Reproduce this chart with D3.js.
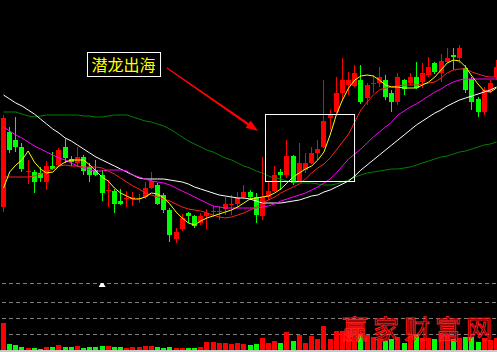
<!DOCTYPE html>
<html><head><meta charset="utf-8">
<script src="https://cdn.jsdelivr.net/npm/d3@7"></script>
<style>html,body{margin:0;padding:0;background:#000;overflow:hidden}</style>
</head><body><svg id="c" width="497" height="352"></svg>
<script>
// ---- data (prices) ----
const opens  = [9.3,16.8,16.0,15.3,12.8,12.8,12.7,11.8,13.4,13.5, 15.3,14.1,13.7,14.3,13.3,13.0,12.5,10.9,10.9,9.9, 10.1,10.1,10.1,10.3,11.2,11.5,10.5,9.0,6.1,7.1, 8.7,8.4,7.7,8.4,8.8,8.8,9.1,9.5,9.6,10.3, 10.8,10.3,8.4,10.3,10.9,12.8,12.5,14.4,11.9,13.0, 13.7,14.7,15.3,18.2,18.8,20.7,21.5,21.4,22.0,20.2, 21.6,21.7,22.0,20.7,19.8,22.0,21.7,22.3,21.8,22.5, 23.7,22.7,23.8,24.5,24.2,23.2,22.1,20.1,18.8,21.0,22.3];
const highs  = [18.5,17.3,18.3,15.7,14.0,13.0,13.3,13.9,14.8,15.2, 16.1,14.4,15.3,14.5,13.7,14.0,13.0,12.0,11.1,11.1, 10.9,10.8,10.6,11.8,12.8,11.7,10.7,9.2,7.2,8.6, 8.8,8.5,8.7,9.1,9.4,9.4,10.3,10.5,10.8,11.5, 11.0,10.7,14.3,11.8,13.4,13.1,16.0,14.5,15.7,14.7, 15.3,16.0,22.0,19.0,22.3,24.2,22.8,23.5,23.5,21.7, 22.5,23.3,22.5,21.0,22.7,22.1,22.7,23.8,23.7,24.3, 23.8,24.6,25.2,25.2,25.5,23.5,22.3,20.3,21.3,22.0,24.0];
const lows   = [8.8,14.7,14.8,12.8,11.6,10.7,11.8,11.0,13.0,13.3, 13.7,13.4,13.3,12.5,11.8,12.4,9.9,9.3,8.7,9.5, 9.3,9.4,9.7,10.1,11.1,9.5,8.7,5.8,5.7,6.9, 7.7,7.2,7.5,7.1,8.3,8.0,8.5,8.5,9.2,10.1, 10.0,7.7,8.0,10.0,10.8,11.0,12.2,11.5,11.8,12.7, 13.6,14.0,15.2,17.0,18.7,20.0,20.5,21.3,19.6,19.5, 20.7,21.3,20.0,18.8,19.5,20.5,21.5,21.1,21.2,22.3, 22.6,21.8,23.7,23.0,23.7,20.7,19.0,18.3,18.5,20.7,22.0];
const closes = [18.2,15.0,15.3,13.1,12.9,11.8,12.2,13.4,13.1,15.0, 14.2,13.8,14.3,12.9,12.5,12.5,10.7,11.0,9.6,9.6, 10.2,10.3,10.2,11.2,11.9,9.6,9.0,6.5,6.8,8.2, 8.4,7.4,8.4,8.7,8.9,8.9,9.6,9.6,10.2,10.8, 10.3,8.5,10.3,10.9,12.5,12.5,14.4,11.7,13.7,13.7, 14.7,15.1,17.9,18.6,20.7,22.0,22.0,22.7,19.8,21.5, 21.7,22.3,20.3,19.8,22.3,21.1,22.3,21.2,22.7,23.3, 22.8,23.9,24.2,24.3,25.2,21.0,19.8,18.8,21.0,21.7,23.3];
const volumes = [27,6,5,3,2,2,1,3,3,5, 3,3,4,2,3,3,4,4,3,3, 2,3,3,4,4,3,2,3,2,2, 2,2,3,8,8,7,7,6,7,6, 5,6,12,7,9,7,18,9,15,7, 14,11,24,11,19,19,19,10,16,15, 13,11,9,11,13,7,14,15,12,12, 11,17,16,11,12,13,13,8,12,10,12];
const ma5   = [11.2,12.8,13.5,14.0,14.9,13.8,13.1,12.7,12.8,13.4, 13.8,14.0,14.0,14.0,13.5,12.9,12.3,11.9,11.2,10.7, 10.4,10.1,10.1,10.3,10.7,10.6,10.2,9.6,8.8,8.2, 7.7,7.5,7.9,8.2,8.4,8.6,8.8,9.0,9.3,9.7, 10.1,10.2,10.3,10.4,10.7,11.1,11.7,12.3,12.7,13.1, 13.4,14.0,14.8,16.5,18.5,20.0,21.2,22.0,22.4,22.5, 22.4,22.0,21.5,21.3,21.3,21.2,21.2,21.2,21.5,21.8, 22.3,23.0,23.7,24.0,23.9,23.3,22.4,21.6,20.9,20.8,21.2];
const ma10  = [12.3,12.3,12.3,12.3,12.3,12.4,12.6,12.8,13.1,13.4, 13.5,13.4,13.4,13.3,13.3,13.3,13.2,12.9,12.6,12.2, 11.8,11.4,11.1,10.7,10.5,10.3,10.1,9.9,9.6,9.3, 9.1,9.0,8.9,8.7,8.5,8.3,8.2,8.3,8.5,8.7, 9.0,9.3,9.7,10.0,10.3,10.7,11.0,11.3,11.6,12.1, 12.7,13.2,13.6,14.2,15.0,15.8,16.6,17.8,19.0,19.8, 20.5,21.0,21.2,21.3,21.4,21.5,21.5,21.5,21.6,21.7, 21.8,22.2,22.7,23.0,23.1,23.1,22.8,22.6,22.4,22.3,22.3];
const ma20  = [17.3,16.9,16.5,16.2,15.8,15.4,15.1,14.8,14.5,14.2, 14.0,13.7,13.4,13.2,13.0,12.9,12.9,13.0,13.0,13.0, 12.9,12.5,12.3,12.1,11.9,11.8,11.7,11.5,11.2,10.9, 10.6,10.3,10.0,9.7,9.4,9.3,9.2,9.2,9.2,9.2, 9.2,9.2,9.3,9.4,9.6,9.9,10.1,10.3,10.5,10.7, 11.0,11.3,11.7,12.1,12.7,13.4,14.1,14.6,15.1,15.7, 16.3,16.8,17.3,17.8,18.5,18.9,19.3,19.6,20.0,20.4, 20.8,21.1,21.5,21.8,22.0,22.1,22.1,22.1,22.1,22.1,22.1];
const ma60  = [20.5,20.1,19.7,19.4,19.0,18.6,18.1,17.6,17.1,16.7, 16.2,15.9,15.5,15.1,14.7,14.3,14.0,13.7,13.4,13.1, 12.8,12.5,12.2,12.1,12.1,12.1,12.1,12.0,11.9,11.8, 11.6,11.3,11.1,10.9,10.7,10.5,10.4,10.3,10.2,10.2, 10.1,9.9,9.7,9.7,9.7,9.7,9.8,9.9,10.0,10.2, 10.4,10.5,10.8,11.0,11.3,11.6,11.9,12.4,13.0,13.5, 14.0,14.5,15.0,15.5,16.0,16.5,17.0,17.5,17.9,18.3, 18.7,19.0,19.4,19.7,20.0,20.2,20.4,20.6,20.8,21.0,21.3];
const ma120 = [18.8,18.8,18.8,18.6,18.4,18.3,18.4,18.5,18.5,18.5, 18.5,18.5,18.5,18.4,18.4,18.3,18.3,18.4,18.5,18.5, 18.5,18.3,18.1,17.9,17.8,17.6,17.4,17.1,16.7,16.3, 15.9,15.6,15.3,15.0,14.8,14.5,14.2,14.0,13.7,13.4, 13.2,12.9,12.7,12.4,12.2,12.1,11.9,11.8,11.7,11.7, 11.7,11.6,11.5,11.5,11.6,11.8,12.0,12.3,12.5,12.7, 12.8,12.9,13.0,13.1,13.1,13.2,13.3,13.5,13.7,13.9, 14.1,14.3,14.4,14.6,14.8,14.9,15.1,15.3,15.5,15.6,15.8];
const volGrid = [16,32,48,67];
const labelText = "潜龙出海";
const watermark = "赢家财富网";

// ---- drawing ----
const W=497,H=352;
const svg=d3.select('#c');
svg.append('rect').attr('width',W).attr('height',H).attr('fill','#000');
const n=closes.length;
const idx=d3.range(n);
const x=d3.scaleLinear().domain([0,n-1]).range([3.5,496.5]);
const y=d3.scaleLinear().domain([0,30]).range([300,0]);
const yv=d3.scaleLinear().domain([0,80]).range([350,270]);
const RED='#ff0000', GRN='#00ff00';
const col=i=>closes[i]>=opens[i]?RED:GRN;
const left=i=>Math.round(x(i)-2.5);

// volume grid
svg.append('g').selectAll('line').data(volGrid).join('line')
  .attr('x1',2).attr('x2',W).attr('y1',d=>Math.round(yv(d))+0.5).attr('y2',d=>Math.round(yv(d))+0.5)
  .attr('stroke','#808080').attr('stroke-dasharray','4,3');

// volume bars
svg.append('g').selectAll('rect').data(idx).join('rect')
  .attr('x',left).attr('width',5)
  .attr('y',i=>yv(volumes[i])).attr('height',i=>yv(0)-yv(volumes[i]))
  .attr('fill',col).attr('shape-rendering','crispEdges');
svg.append('rect').attr('x',0).attr('y',yv(0)).attr('width',W).attr('height',2).attr('fill','#c8c8c8');

// marker
const mi=16;
svg.append('path').attr('d',`M${x(mi)-3.5},${yv(67)+4} L${x(mi)+3.5},${yv(67)+4} L${x(mi)+1},${yv(67)} L${x(mi)-1},${yv(67)} Z`).attr('fill','#fff');

// candles
const cg=svg.append('g').attr('shape-rendering','crispEdges');
cg.selectAll('.w').data(idx).join('rect').attr('class','w')
  .attr('x',i=>left(i)+2).attr('width',1)
  .attr('y',i=>Math.round(y(highs[i]))).attr('height',i=>Math.max(1,Math.round(y(lows[i]))-Math.round(y(highs[i]))))
  .attr('fill',col);
cg.selectAll('.b').data(idx).join('rect').attr('class','b')
  .attr('x',left).attr('width',5)
  .attr('y',i=>Math.round(y(Math.max(opens[i],closes[i]))))
  .attr('height',i=>Math.max(1,Math.round(y(Math.min(opens[i],closes[i])))-Math.round(y(Math.max(opens[i],closes[i])))))
  .attr('fill',col);

// moving averages
const line=d3.line().x((d,i)=>x(i)).y(d=>y(d));
[[ma120,'#008000'],[ma60,'#ffffff'],[ma20,'#ff00ff'],[ma10,'#ff2020'],[ma5,'#ffff00']].forEach(([s,c])=>{
  svg.append('path').attr('d',line(s)).attr('fill','none').attr('stroke',c).attr('stroke-width',1);
});

// annotation box around breakout
svg.append('rect').attr('x',Math.round(x(42.43))+0.5).attr('y',Math.round(y(18.6))+0.5)
  .attr('width',x(56.88)-x(42.43)).attr('height',y(11.9)-y(18.6))
  .attr('fill','none').attr('stroke','#fff');

// label
const lx0=x(13.55), lx1=x(25.4), ly0=y(24.8), ly1=y(22.4);
svg.append('rect').attr('x',Math.round(lx0)+0.5).attr('y',Math.round(ly0)+0.5).attr('width',lx1-lx0).attr('height',ly1-ly0)
  .attr('fill','#000').attr('stroke','#fff');
svg.append('text').attr('x',(lx0+lx1)/2).attr('y',ly1-5).attr('text-anchor','middle')
  .attr('font-family','"Noto Sans CJK SC"').attr('font-size',16).attr('fill','#ffff00').text(labelText);

// arrow
const ax0=x(26.53), ay0=y(23.2), ax1=x(41.3), ay1=y(16.9);
const dx=ax1-ax0, dy=ay1-ay0, L=Math.hypot(dx,dy), ux=dx/L, uy=dy/L, px=-uy, py=ux;
const bx=ax1-12*ux, by=ay1-12*uy;
svg.append('path').attr('d',`M${ax0},${ay0} L${bx+0.6*px},${by+0.6*py} L${bx-0.6*px},${by-0.6*py} Z`).attr('fill',RED).attr('stroke',RED).attr('stroke-width',1.2);
svg.append('path').attr('d',`M${ax1},${ay1} L${bx+4.5*px},${by+4.5*py} L${bx-4.5*px},${by-4.5*py} Z`).attr('fill',RED);

// watermark, one glyph at a time
const wmChars=Array.from(watermark);
svg.append('g').selectAll('text').data(wmChars).join('text')
  .attr('x',(d,i)=>342+i*31).attr('y',339)
  .attr('font-family','"Noto Sans CJK SC"').attr('font-size',26)
  .attr('fill','none').attr('stroke','#ff1a1a').attr('stroke-width',1).text(d=>d);
</script></body></html>
